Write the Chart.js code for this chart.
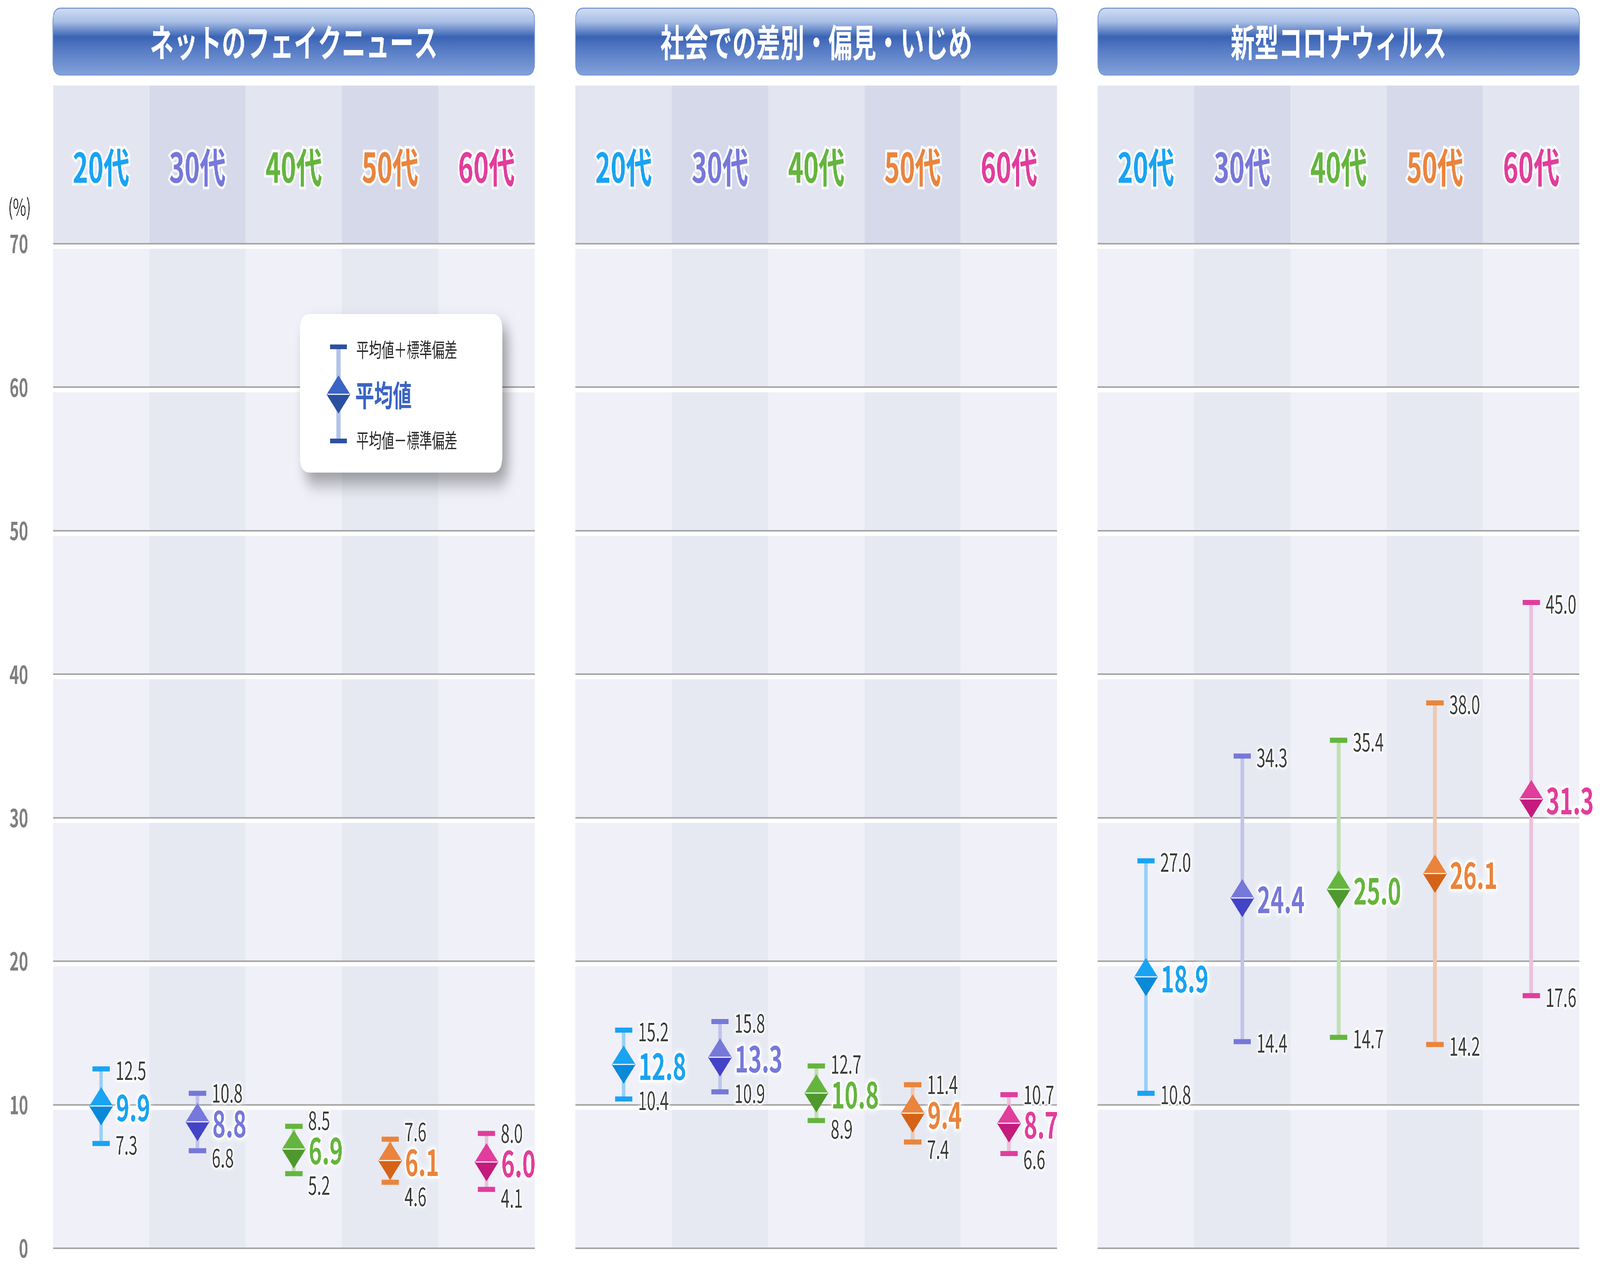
<!DOCTYPE html>
<html lang="ja">
<head>
<meta charset="utf-8">
<title>年代別 不安の度合い</title>
<script src="https://cdn.jsdelivr.net/npm/chart.js@4.4.1/dist/chart.umd.min.js"></script>
<style>
html, body { margin: 0; padding: 0; background: #fff; overflow: hidden; width: 100vw; height: 100vh; }
#frame { position: relative; width: 100vw; height: 100vh; overflow: hidden; }
#stage { position: absolute; left: 0; top: 0; width: 6467px; height: 3267px; transform-origin: 0 0; }
canvas { position: absolute; top: 0; }
</style>
</head>
<body>
<div id="frame">
<div id="stage">
<canvas id="c1" width="2240" height="3267" style="left:0px"></canvas>
<canvas id="c2" width="2240" height="3267" style="left:2112px"></canvas>
<canvas id="c3" width="2240" height="3267" style="left:4223px"></canvas>
</div>
</div>
<script>
// data
var ages = ['20代', '30代', '40代', '50代', '60代'];
var yTicks = [0, 10, 20, 30, 40, 50, 60, 70];

var fakeNewsTitle = 'ネットのフェイクニュース';
var fakeNewsMean  = [9.9, 8.8, 6.9, 6.1, 6.0];
var fakeNewsUpper = [12.5, 10.8, 8.5, 7.6, 8.0];
var fakeNewsLower = [7.3, 6.8, 5.2, 4.6, 4.1];

var bullyTitle = '社会での差別・偏見・いじめ';
var bullyMean  = [12.8, 13.3, 10.8, 9.4, 8.7];
var bullyUpper = [15.2, 15.8, 12.7, 11.4, 10.7];
var bullyLower = [10.4, 10.9, 8.9, 7.4, 6.6];

var coronaTitle = '新型コロナウィルス';
var coronaMean  = [18.9, 24.4, 25.0, 26.1, 31.3];
var coronaUpper = [27.0, 34.3, 35.4, 38.0, 45.0];
var coronaLower = [10.8, 14.4, 14.7, 14.2, 17.6];

// colours
var ageColors    = ['#19a3f3', '#7678da', '#64b53d', '#ea843c', '#e13d9c'];
var darkColors   = ['#0a89d9', '#4343c8', '#4f982e', '#d46318', '#c41b7c'];
var paleColors   = ['#98d0f6', '#c1c3eb', '#c0dfb2', '#efc7b1', '#ecc1dd'];
var headerBands  = ['#e3e6f0', '#d6d9e9'];
var plotBands    = ['#eff0f8', '#e6e9f2'];

var FONT = '"Noto Sans CJK JP", "Noto Sans", sans-serif';

// the window may be narrower than 6467x3267: stretch the drawing to fill it
var sx = window.innerWidth / 6467, sy = window.innerHeight / 3267;
document.getElementById('stage').style.transform = 'scale(' + sx + ',' + sy + ')';

function makeDiamond(top, bottom, w, h) {
  var c = document.createElement('canvas');
  c.width = w; c.height = h;
  var g = c.getContext('2d');
  g.fillStyle = top;
  g.beginPath(); g.moveTo(w / 2, 0); g.lineTo(w, h / 2); g.lineTo(0, h / 2); g.closePath(); g.fill();
  g.fillStyle = bottom;
  g.beginPath(); g.moveTo(0, h / 2); g.lineTo(w, h / 2); g.lineTo(w / 2, h); g.closePath(); g.fill();
  g.fillStyle = 'rgba(255,255,255,0.9)';
  g.fillRect(3, h / 2 - 2, w - 6, 3);
  return c;
}

var diamonds = ageColors.map(function (c, i) { return makeDiamond(c, darkColors[i], 96, 98); });

function roundRect(ctx, x, y, w, h, r) {
  ctx.beginPath();
  ctx.moveTo(x + r, y);
  ctx.lineTo(x + w - r, y);
  ctx.quadraticCurveTo(x + w, y, x + w, y + r);
  ctx.lineTo(x + w, y + h - r);
  ctx.quadraticCurveTo(x + w, y + h, x + w - r, y + h);
  ctx.lineTo(x + r, y + h);
  ctx.quadraticCurveTo(x, y + h, x, y + h - r);
  ctx.lineTo(x, y + r);
  ctx.quadraticCurveTo(x, y, x + r, y);
  ctx.closePath();
}

function haloText(ctx, text, x, y, color, font, halo, align) {
  ctx.save();
  ctx.font = font;
  ctx.textAlign = align || 'left';
  ctx.textBaseline = 'middle';
  ctx.lineJoin = 'round';
  ctx.shadowColor = '#ffffff';
  ctx.shadowBlur = halo * 1.5;
  ctx.strokeStyle = 'rgba(255,255,255,0.9)';
  ctx.lineWidth = halo;
  ctx.strokeText(text, x, y);
  ctx.shadowBlur = 0;
  ctx.fillStyle = color;
  ctx.fillText(text, x, y);
  ctx.restore();
}

var panelPlugin = {
  id: 'panel',
  beforeDraw: function (chart) {
    var ctx = chart.ctx, a = chart.chartArea, xs = chart.scales.x, ys = chart.scales.y;
    var colW = (a.right - a.left) / ages.length;
    var headTop = 219;
    ctx.save();
    for (var i = 0; i < ages.length; i++) {
      var cx = xs.getPixelForValue(i);
      ctx.fillStyle = headerBands[i % 2];
      ctx.fillRect(cx - colW / 2, headTop, colW, a.top - headTop);
      ctx.fillStyle = plotBands[i % 2];
      ctx.fillRect(cx - colW / 2, a.top, colW, a.bottom - a.top);
    }
    // white highlight under every grid line
    ctx.fillStyle = '#ffffff';
    yTicks.forEach(function (v) {
      if (v === 0) return;
      var py = ys.getPixelForValue(v);
      ctx.fillRect(a.left, py + 2, a.right - a.left, 11);
    });
    // title bar
    var tx = a.left, ty = 21, tw = a.right - a.left, th = 171;
    var grad = ctx.createLinearGradient(0, ty, 0, ty + th);
    grad.addColorStop(0, '#d2ddf3');
    grad.addColorStop(0.2, '#a9bfe6');
    grad.addColorStop(0.43, '#3a63b4');
    grad.addColorStop(0.6, '#5479c3');
    grad.addColorStop(1, '#82a2da');
    roundRect(ctx, tx, ty, tw, th, 32);
    ctx.fillStyle = grad;
    ctx.fill();
    ctx.lineWidth = 3;
    ctx.strokeStyle = '#7898d4';
    ctx.stroke();
    ctx.fillStyle = '#ffffff';
    ctx.font = 'bold 97px ' + FONT;
    ctx.textAlign = 'center';
    ctx.textBaseline = 'middle';
    ctx.fillText(chart.options.plugins.panel.title, tx + tw / 2, ty + th / 2 + 2);
    ctx.restore();
  },
  afterDatasetsDraw: function (chart) {
    var ctx = chart.ctx, ys = chart.scales.y;
    var o = chart.options.plugins.panel;
    var pts = chart.getDatasetMeta(3).data;
    for (var i = 0; i < pts.length; i++) {
      var x = pts[i].x;
      var my = ys.getPixelForValue(o.mean[i]);
      var uy = Math.min(ys.getPixelForValue(o.upper[i]), my - 78);
      var ly = Math.max(ys.getPixelForValue(o.lower[i]), my + 88);
      haloText(ctx, o.upper[i].toFixed(1), x + 58, uy + 4, '#3b3b3b', '64px ' + FONT, 8);
      haloText(ctx, o.lower[i].toFixed(1), x + 58, ly + 4, '#3b3b3b', '64px ' + FONT, 8);
      haloText(ctx, o.mean[i].toFixed(1), x + 60, my + 4, ageColors[i], 'bold 92px ' + FONT, 12);
    }
  },
  afterDraw: function (chart) {
    var o = chart.options.plugins.panel;
    if (!o.first) return;
    var ctx = chart.ctx;
    ctx.save();
    ctx.fillStyle = '#333333';
    ctx.font = '58px ' + FONT;
    ctx.textAlign = 'center';
    ctx.textBaseline = 'middle';
    ctx.fillText('(%)', 79, 530);

    // legend card
    ctx.save();
    ctx.shadowColor = 'rgba(0,0,0,0.35)';
    ctx.shadowBlur = 45;
    ctx.shadowOffsetX = 22;
    ctx.shadowOffsetY = 28;
    roundRect(ctx, 1212, 804, 818, 406, 40);
    ctx.fillStyle = '#ffffff';
    ctx.fill();
    ctx.restore();

    var lx = 1368;
    ctx.fillStyle = '#b3c3e8';
    ctx.fillRect(lx - 8, 888, 16, 241);
    ctx.fillStyle = '#2c50a0';
    ctx.fillRect(lx - 34, 882, 68, 12);
    ctx.fillRect(lx - 34, 1123, 68, 12);
    ctx.drawImage(makeDiamond('#3c64c4', '#2c50a0', 96, 98), lx - 48, 961);

    ctx.textAlign = 'left';
    ctx.fillStyle = '#2a2a2a';
    ctx.font = '51px ' + FONT;
    ctx.fillText('平均値＋標準偏差', 1440, 896);
    ctx.fillText('平均値－標準偏差', 1440, 1128);
    ctx.fillStyle = '#3c64c4';
    ctx.font = 'bold 76px ' + FONT;
    ctx.fillText('平均値', 1436, 1012);
    ctx.restore();
  }
};

function makePanel(id, title, mean, upper, lower, first) {
  var pairs = lower.map(function (l, i) { return [l, upper[i]]; });
  return new Chart(document.getElementById(id), {
    type: 'bar',
    data: {
      labels: ages,
      datasets: [
        {
          type: 'bar', data: pairs, backgroundColor: paleColors,
          barThickness: 14, borderWidth: 0, order: 3
        },
        {
          type: 'line', data: upper, showLine: false, pointStyle: 'line',
          pointRadius: 35, pointBorderWidth: 13, pointBorderColor: ageColors,
          pointBackgroundColor: ageColors, order: 2
        },
        {
          type: 'line', data: lower, showLine: false, pointStyle: 'line',
          pointRadius: 35, pointBorderWidth: 13, pointBorderColor: ageColors,
          pointBackgroundColor: ageColors, order: 1
        },
        {
          type: 'line', data: mean, showLine: false, pointStyle: diamonds,
          pointRadius: 48, order: 0
        }
      ]
    },
    options: {
      responsive: false,
      animation: false,
      devicePixelRatio: 1,
      events: [],
      layout: { padding: { left: 0, right: 79, top: 0, bottom: 71 } },
      plugins: {
        legend: { display: false },
        tooltip: { enabled: false },
        panel: { title: title, mean: mean, upper: upper, lower: lower, first: first }
      },
      scales: {
        x: {
          type: 'category', position: 'top', offset: true,
          grid: { display: false, drawTicks: false },
          border: { display: false },
          ticks: {
            color: function (c) { return ageColors[c.index]; },
            font: { family: FONT, size: 105, weight: 'bold' },
            padding: 133, maxRotation: 0, autoSkip: false,
            textStrokeColor: 'rgba(255,255,255,0.85)', textStrokeWidth: 14
          },
          afterFit: function (s) { s.height = 624; s.paddingLeft = 0; s.paddingRight = 0; }
        },
        y: {
          min: 0, max: 70,
          grid: { color: '#a6a6a6', lineWidth: 4, drawTicks: false },
          border: { display: false },
          ticks: {
            stepSize: 10, display: first, padding: 100, color: '#7f7f7f',
            font: { family: FONT, size: 64, weight: 'bold' }
          },
          afterFit: function (s) { s.width = 214; s.paddingTop = 0; s.paddingBottom = 0; }
        }
      }
    },
    plugins: [panelPlugin]
  });
}

makePanel('c1', fakeNewsTitle, fakeNewsMean, fakeNewsUpper, fakeNewsLower, true);
makePanel('c2', bullyTitle, bullyMean, bullyUpper, bullyLower, false);
makePanel('c3', coronaTitle, coronaMean, coronaUpper, coronaLower, false);
</script>
</body>
</html>
